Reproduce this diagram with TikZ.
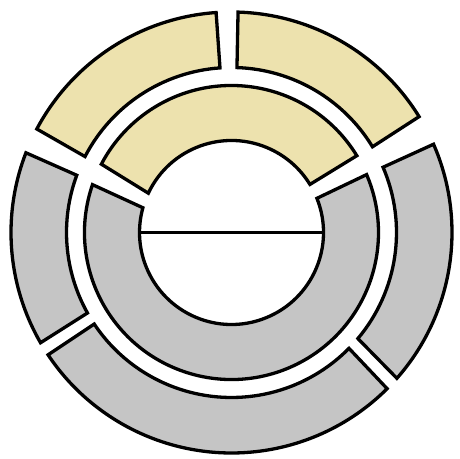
\documentclass[tikz,border=0pt]{standalone}
\definecolor{segyellow}{RGB}{237,226,174}
\definecolor{seggray}{RGB}{197,197,197}
\tikzset{
  seg/.style={draw=black, line width=3.3pt, line join=miter},
  ysegment/.style={seg, fill=segyellow},
  gsegment/.style={seg, fill=seggray}
}
\begin{document}
\begin{tikzpicture}[x=1pt,y=1pt]
\useasboundingbox (0,0) rectangle (460,458);
\coordinate (c) at (231.5,225.5);
% outer ring
\begin{scope}[shift={(c)}]
\draw[ysegment] (94:220.5) arc[start angle=94, end angle=152, radius=220.5] -- (152.6:165) arc[start angle=152.6, end angle=94, radius=165] -- cycle;
\draw[ysegment] (31.7:220.5) arc[start angle=31.7, end angle=88.3, radius=220.5] -- (88.1:165) arc[start angle=88.1, end angle=31.3, radius=165] -- cycle;
\draw[gsegment] (-41.4:220.5) arc[start angle=-41.4, end angle=23.6, radius=220.5] -- (23.3:165) arc[start angle=23.3, end angle=-40, radius=165] -- cycle;
\draw[gsegment] (213.7:220.5) arc[start angle=213.7, end angle=314.9, radius=220.5] -- (315.4:165) arc[start angle=315.4, end angle=213.7, radius=165] -- cycle;
\draw[gsegment] (158.8:220.5) arc[start angle=158.8, end angle=210, radius=220.5] -- (209.2:165) arc[start angle=209.2, end angle=159.7, radius=165] -- cycle;
% inner ring
\draw[ysegment] (31.5:147) arc[start angle=31.5, end angle=152.3, radius=147] -- (154.7:92) arc[start angle=154.7, end angle=31.5, radius=92] -- cycle;
\draw[gsegment] (161:147) arc[start angle=161, end angle=383.2, radius=147] -- (381.8:92) arc[start angle=381.8, end angle=164.4, radius=92] -- cycle;
% centre line
\coordinate (l) at (180:92);
\coordinate (r) at (0:92);
\draw[line width=3.3pt] (l) -- (r);
\end{scope}
\end{tikzpicture}
\end{document}
